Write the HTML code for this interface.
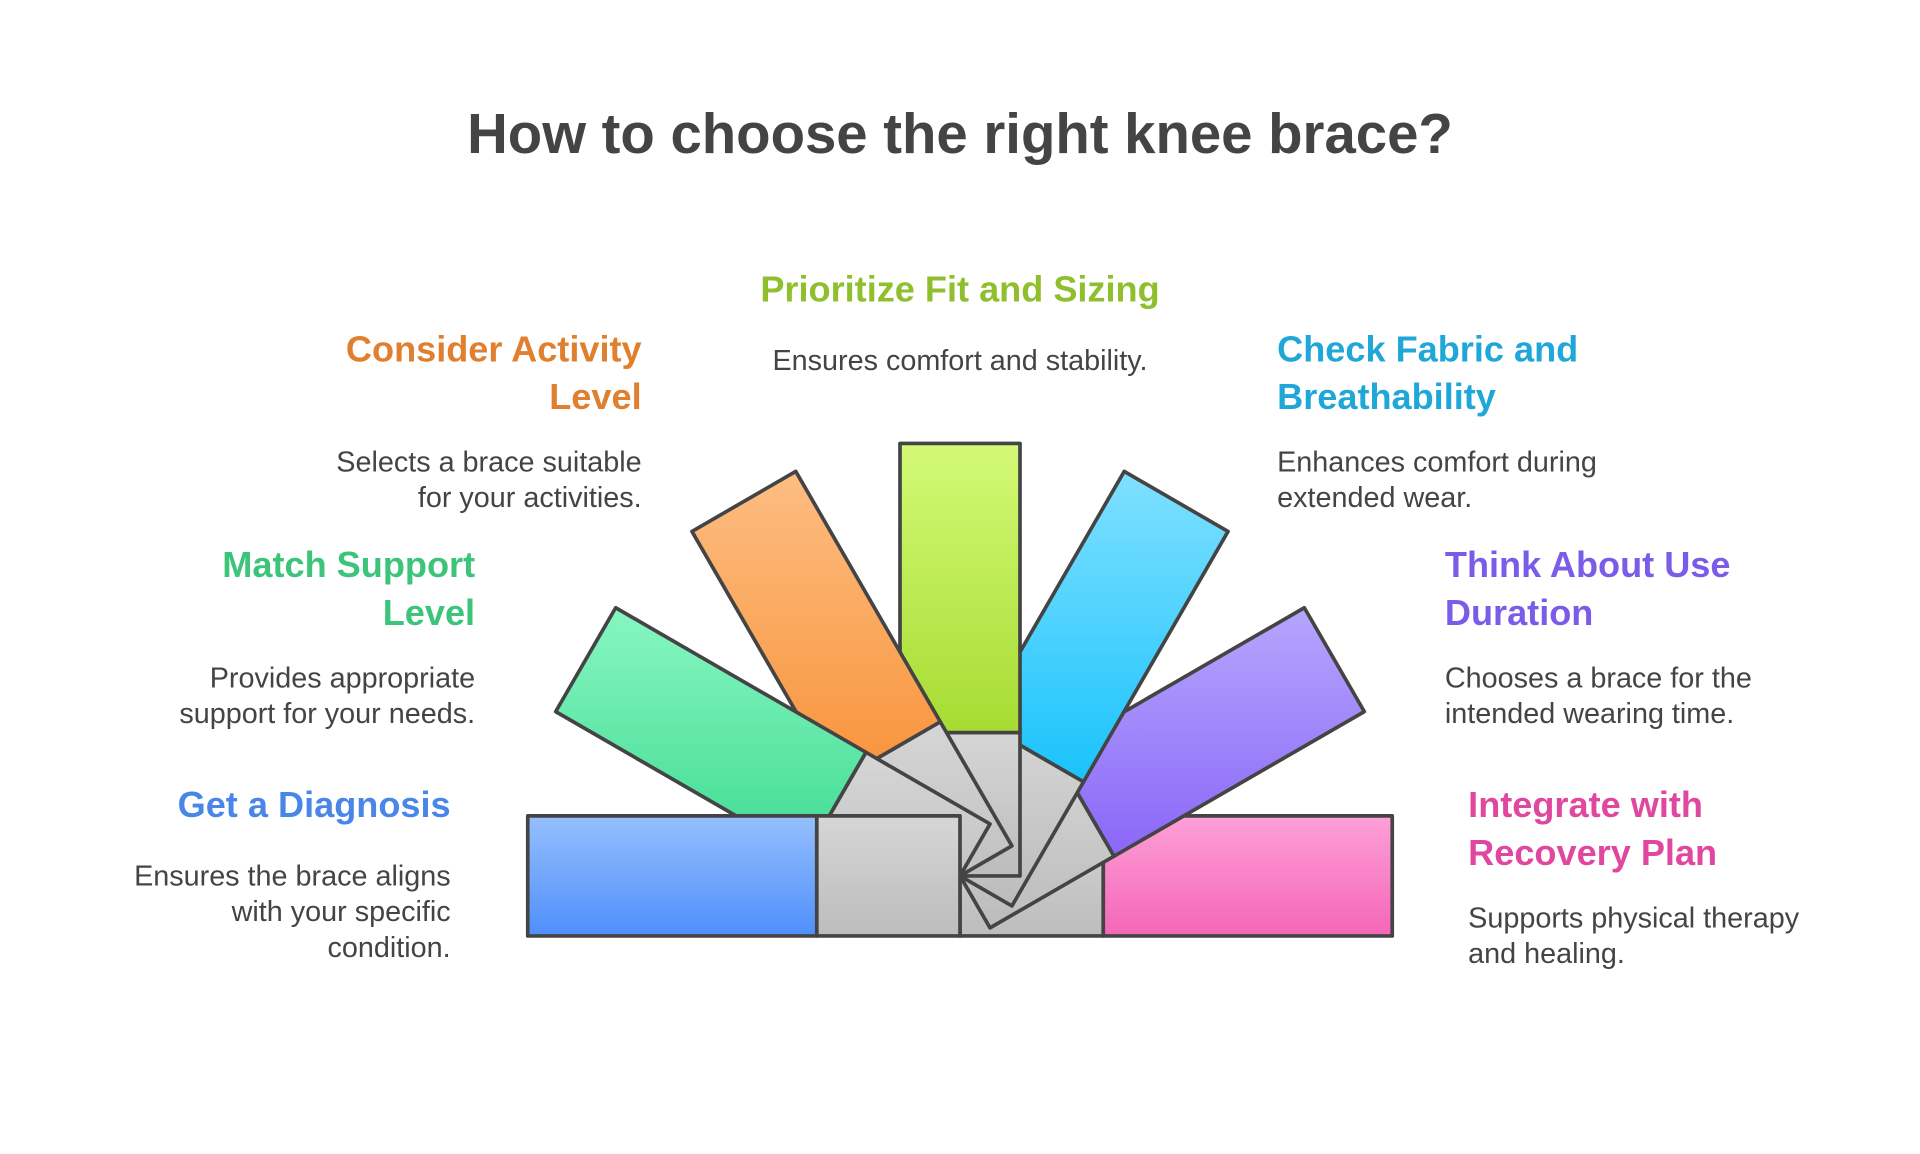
<!DOCTYPE html>
<html><head><meta charset="utf-8"><style>
html,body{margin:0;padding:0;background:#fff;}
svg{display:block;}
text{font-family:"Liberation Sans",sans-serif;}
.t{font-weight:bold;font-size:29.5px;}
.b{font-size:23.5px;fill:#444;}
</style></head><body>
<svg width="1920" height="1154" viewBox="0 0 1568 942" preserveAspectRatio="none" xmlns="http://www.w3.org/2000/svg">
<defs>
<linearGradient id="gg" x1="0" y1="0" x2="0" y2="1"><stop offset="0" stop-color="#d6d6d6"/><stop offset="1" stop-color="#bcbcbc"/></linearGradient>
<linearGradient id="gb" x1="0" y1="0" x2="0" y2="1"><stop offset="0" stop-color="#96bffd"/><stop offset="1" stop-color="#4f8ffc"/></linearGradient>
<linearGradient id="ge" x1="0" y1="0" x2="0" y2="1"><stop offset="0" stop-color="#88f6c2"/><stop offset="1" stop-color="#40db92"/></linearGradient>
<linearGradient id="go" x1="0" y1="0" x2="0" y2="1"><stop offset="0" stop-color="#fdbd82"/><stop offset="1" stop-color="#f8933a"/></linearGradient>
<linearGradient id="gl" x1="0" y1="0" x2="0" y2="1"><stop offset="0" stop-color="#d3f976"/><stop offset="1" stop-color="#a6dc32"/></linearGradient>
<linearGradient id="gc" x1="0" y1="0" x2="0" y2="1"><stop offset="0" stop-color="#80e0ff"/><stop offset="1" stop-color="#19c3fc"/></linearGradient>
<linearGradient id="gp" x1="0" y1="0" x2="0" y2="1"><stop offset="0" stop-color="#b6a6fc"/><stop offset="1" stop-color="#8a66f8"/></linearGradient>
<linearGradient id="gk" x1="0" y1="0" x2="0" y2="1"><stop offset="0" stop-color="#fda0d7"/><stop offset="1" stop-color="#f566b8"/></linearGradient>
</defs>
<text x="784" y="125" text-anchor="middle" font-size="46" font-weight="bold" fill="#444">How to choose the right knee brace?</text>

<g stroke="#444" stroke-width="3" stroke-linejoin="round">
<polygon fill="url(#gg)" points="784,764 784,666 901,666 901,764"/>
<polygon fill="url(#gk)" points="901,666 1137,666 1137,764 901,764"/>
<polygon fill="url(#gg)" points="808.5,757.4 759.5,672.6 860.8,614.1 909.8,698.9"/>
<polygon fill="url(#gp)" points="860.8,614.1 1065.2,496.1 1114.2,580.9 909.8,698.9"/>
<polygon fill="url(#gg)" points="826.4,739.5 741.6,690.5 800.1,589.2 884.9,638.2"/>
<polygon fill="url(#gc)" points="800.1,589.2 918.1,384.8 1002.9,433.8 884.9,638.2"/>
<polygon fill="url(#gg)" points="833,715 735,715 735,598 833,598"/>
<polygon fill="url(#gl)" points="735,598 735,362 833,362 833,598"/>
<polygon fill="url(#gg)" points="826.4,690.5 741.6,739.5 683.1,638.2 767.9,589.2"/>
<polygon fill="url(#go)" points="683.1,638.2 565.1,433.8 649.9,384.8 767.9,589.2"/>
<polygon fill="url(#gg)" points="808.5,672.6 759.5,757.4 658.2,698.9 707.2,614.1"/>
<polygon fill="url(#ge)" points="658.2,698.9 453.8,580.9 502.8,496.1 707.2,614.1"/>
<polygon fill="url(#gg)" points="784,666 784,764 667,764 667,666"/>
<polygon fill="url(#gb)" points="667,666 431,666 431,764 667,764"/>
</g>

<text class="t" x="784" y="246" text-anchor="middle" fill="#8fbf2c">Prioritize Fit and Sizing</text>
<text class="b" x="784" y="302" text-anchor="middle">Ensures comfort and stability.</text>

<text class="t" x="524" y="295" text-anchor="end" fill="#e07f2e">Consider Activity</text>
<text class="t" x="524" y="334" text-anchor="end" fill="#e07f2e">Level</text>
<text class="b" x="524" y="385" text-anchor="end">Selects a brace suitable</text>
<text class="b" x="524" y="414" text-anchor="end">for your activities.</text>

<text class="t" x="1043" y="295" fill="#1fa7d8">Check Fabric and</text>
<text class="t" x="1043" y="334" fill="#1fa7d8">Breathability</text>
<text class="b" x="1043" y="385">Enhances comfort during</text>
<text class="b" x="1043" y="414">extended wear.</text>

<text class="t" x="388" y="471" text-anchor="end" fill="#3dc47b">Match Support</text>
<text class="t" x="388" y="510" text-anchor="end" fill="#3dc47b">Level</text>
<text class="b" x="388" y="561" text-anchor="end">Provides appropriate</text>
<text class="b" x="388" y="590" text-anchor="end">support for your needs.</text>

<text class="t" x="1180" y="471" fill="#7b5ce8">Think About Use</text>
<text class="t" x="1180" y="510" fill="#7b5ce8">Duration</text>
<text class="b" x="1180" y="561">Chooses a brace for the</text>
<text class="b" x="1180" y="590">intended wearing time.</text>

<text class="t" x="368" y="667" text-anchor="end" fill="#4a86e8">Get a Diagnosis</text>
<text class="b" x="368" y="723" text-anchor="end">Ensures the brace aligns</text>
<text class="b" x="368" y="752" text-anchor="end">with your specific</text>
<text class="b" x="368" y="781" text-anchor="end">condition.</text>

<text class="t" x="1199" y="667" fill="#e0489f">Integrate with</text>
<text class="t" x="1199" y="706" fill="#e0489f">Recovery Plan</text>
<text class="b" x="1199" y="757">Supports physical therapy</text>
<text class="b" x="1199" y="786">and healing.</text>
</svg>
</body></html>
